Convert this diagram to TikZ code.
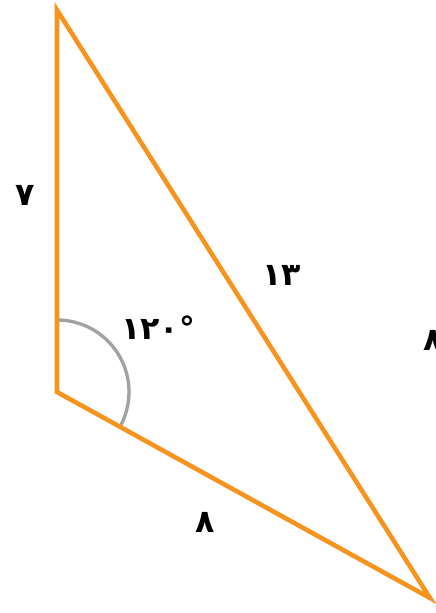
\documentclass[tikz,border=0pt]{standalone}
\usepackage{fontspec}
\newfontfamily\arabicfont[Script=Arabic]{DejaVu Sans}
\usetikzlibrary{calc}
\definecolor{sideorange}{HTML}{F7941D}
\definecolor{arcgray}{HTML}{A2A2A2}

\begin{document}
\begin{tikzpicture}[x=0.02cm, y=0.02cm,
    side/.style={draw=sideorange, line width=2.6pt, line join=miter},
    anglearc/.style={draw=arcgray, line width=1.9pt},
    lbl/.style={font=\arabicfont\bfseries\fontsize{18}{20}\selectfont, inner sep=0pt}
]
    \useasboundingbox (0,0) rectangle (436,613);

    \coordinate (top) at (57,603);
    \coordinate (corner) at (57,221);
    \coordinate (tip) at (430,15);

    \draw[anglearc] ($(corner)+(0,72)$) arc[start angle=90, end angle=-29, radius=1.44cm];
    \draw[side] (top) -- (corner) -- (tip) -- cycle;

    \node[lbl] (left) at (25,418) {۷};
    \node[lbl] (hyp) at (282,338) {۱۳};
    \node[lbl] (ang) at (158,285) {۱۲۰°};
    \node[lbl] (bottom) at (205,91) {۸};
    \node[lbl] (edge) at (433,273) {۸};
\end{tikzpicture}
\end{document}
